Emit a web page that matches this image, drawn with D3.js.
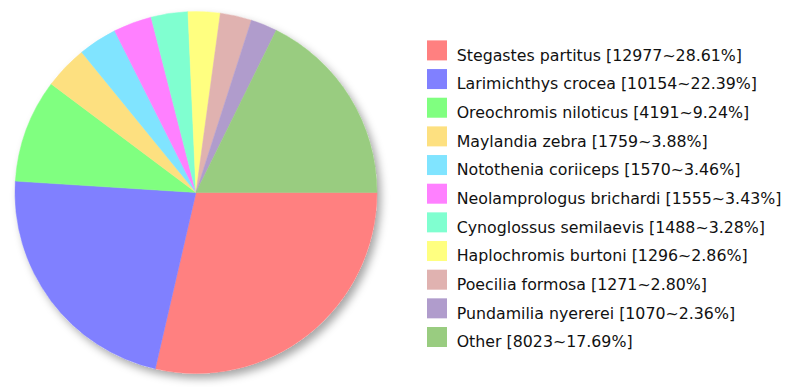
<!DOCTYPE html>
<html><head><meta charset="utf-8">
<script src="https://cdn.jsdelivr.net/npm/d3@7/dist/d3.min.js"></script>
<style>body{margin:0;background:#fff}svg{display:block}</style>
</head><body>
<svg id="chart" width="795" height="387"></svg>
<script>
const categories = ["Stegastes partitus","Larimichthys crocea","Oreochromis niloticus","Maylandia zebra","Notothenia coriiceps","Neolamprologus brichardi","Cynoglossus semilaevis","Haplochromis burtoni","Poecilia formosa","Pundamilia nyererei","Other"];
const counts = [12977,10154,4191,1759,1570,1555,1488,1296,1271,1070,8023];
const percents = ["28.61%","22.39%","9.24%","3.88%","3.46%","3.43%","3.28%","2.86%","2.80%","2.36%","17.69%"];
const colors = ["#ff8080","#8080ff","#80ff80","#fde080","#80e4ff","#ff80ff","#80ffd0","#ffff80","#e0b2b0","#b09ccc","#99cc80"];

const svg = d3.select("#chart");
const defs = svg.append("defs");
const f = defs.append("filter").attr("id","shadow").attr("x","-20%").attr("y","-20%").attr("width","140%").attr("height","140%");
f.append("feDropShadow").attr("dx",4).attr("dy",5).attr("stdDeviation",4).attr("flood-color","#000").attr("flood-opacity",0.35);

const cx = 196, cy = 192.5, r = 181;
const data = categories.map((c,i)=>({name:c,value:counts[i],pct:percents[i],color:colors[i]}));
const pie = d3.pie().value(d=>d.value).sort(null).startAngle(Math.PI/2).endAngle(Math.PI/2 + 2*Math.PI);
const arc = d3.arc().innerRadius(0).outerRadius(r);
const g = svg.append("g").attr("transform",`translate(${cx},${cy})`);
g.append("circle").attr("r",r).attr("fill","#fff").attr("filter","url(#shadow)");
g.selectAll("path").data(pie(data)).join("path")
  .attr("d",arc).attr("fill",d=>d.data.color).attr("stroke",d=>d.data.color).attr("stroke-width",0.5);

const legend = svg.append("g").attr("transform","translate(427,40.4)");
const step = 28.66;
const rows = legend.selectAll("g").data(data).join("g").attr("transform",(d,i)=>`translate(0,${i*step})`);
rows.append("rect").attr("width",20).attr("height",20).attr("fill",d=>d.color);
rows.append("text").attr("x",29.7).attr("y",20.3)
  .attr("font-family","DejaVu Sans, Verdana, sans-serif").attr("font-size",15.8).attr("fill","#111")
  .text(d=>`${d.name} [${d.value}~${d.pct}]`);
</script>
</body></html>
